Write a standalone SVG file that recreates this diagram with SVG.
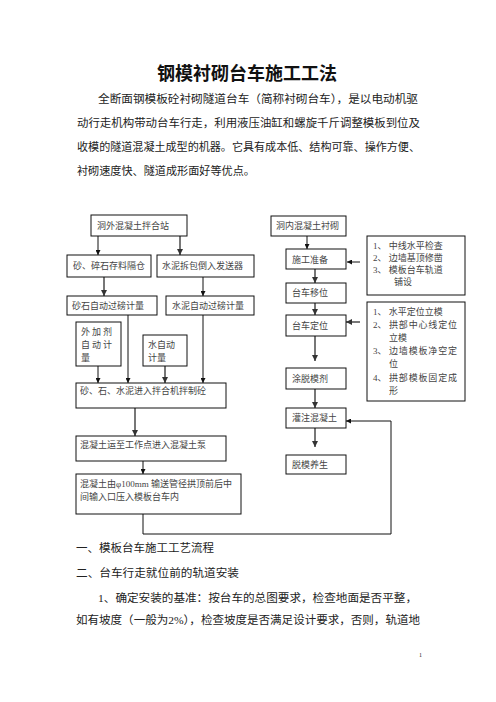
<svg xmlns="http://www.w3.org/2000/svg" width="496" height="702" viewBox="0 0 496 702">
<defs>
<style>
.bx{fill:#fff;stroke:#111;stroke-width:1}
.t{font-family:"Liberation Serif","Noto Sans CJK SC",serif;font-size:9px;fill:#444}
.p{font-family:"Liberation Serif","Noto Sans CJK SC",serif;font-size:11.2px;fill:#222}
.h{font-family:"Noto Sans CJK SC",sans-serif;font-size:18px;font-weight:bold;fill:#111}
.k{fill:none;stroke:#111;stroke-width:1}
.g{fill:none;stroke:#777;stroke-width:2}
</style>
<marker id="a" viewBox="0 0 6 6" refX="6" refY="3" markerWidth="5" markerHeight="5" markerUnits="userSpaceOnUse" orient="auto"><path d="M0,0L6,3L0,6z" fill="#111"/></marker>
<marker id="ag" viewBox="0 0 6 6" refX="6" refY="3" markerWidth="6" markerHeight="6" markerUnits="userSpaceOnUse" orient="auto"><path d="M0,0L6,3L0,6z" fill="#333"/></marker>
</defs>
<rect width="496" height="702" fill="#fff"/>

<text class="h" x="247" y="80" text-anchor="middle">钢模衬砌台车施工工法</text>
<text class="p" x="98" y="103" textLength="320" lengthAdjust="spacingAndGlyphs">全断面钢模板砼衬砌隧道台车（简称衬砌台车），是以电动机驱</text>
<text class="p" x="77" y="127" textLength="343" lengthAdjust="spacingAndGlyphs">动行走机构带动台车行走，利用液压油缸和螺旋千斤调整模板到位及</text>
<text class="p" x="77" y="151" textLength="343" lengthAdjust="spacingAndGlyphs">收模的隧道混凝土成型的机器。它具有成本低、结构可靠、操作方便、</text>
<text class="p" x="77" y="175" textLength="178" lengthAdjust="spacingAndGlyphs">衬砌速度快、隧道成形面好等优点。</text>

<g id="connectors">
<line class="k" x1="98" y1="236" x2="98" y2="255" marker-end="url(#a)"/>
<line class="g" x1="180" y1="236" x2="180" y2="255" marker-end="url(#ag)"/>
<line class="g" x1="104" y1="277" x2="104" y2="296" marker-end="url(#ag)"/>
<line class="k" x1="203" y1="277" x2="203" y2="296" marker-end="url(#a)"/>
<line class="k" x1="98" y1="366" x2="98" y2="383" marker-end="url(#a)"/>
<line class="k" x1="128" y1="315" x2="128" y2="383" marker-end="url(#a)"/>
<line class="g" x1="165" y1="366" x2="165" y2="383" marker-end="url(#ag)"/>
<line class="k" x1="203" y1="315" x2="203" y2="383" marker-end="url(#a)"/>
<line class="g" x1="135" y1="408" x2="135" y2="436" marker-end="url(#ag)"/>
<line class="k" x1="143" y1="461" x2="143" y2="474" marker-end="url(#a)"/>
<polyline class="k" points="143,514 143,534 391,534 391,421 346,421" marker-end="url(#a)"/>
<line class="k" x1="307" y1="236" x2="307" y2="249" marker-end="url(#a)"/>
<line class="g" x1="315" y1="269" x2="315" y2="283" marker-end="url(#ag)"/>
<line class="g" x1="315" y1="303" x2="315" y2="315" marker-end="url(#ag)"/>
<line class="g" x1="315" y1="336" x2="315" y2="361" marker-end="url(#ag)"/>
<line class="g" x1="315" y1="389" x2="315" y2="408" marker-end="url(#ag)"/>
<line class="g" x1="315" y1="428" x2="315" y2="447" marker-end="url(#ag)"/>
<line class="k" x1="360" y1="262" x2="347" y2="262" marker-end="url(#a)"/>
<line class="g" x1="360" y1="322" x2="346" y2="322" marker-end="url(#ag)"/>
</g>

<g id="n1"><rect class="bx" x="91" y="215" width="96" height="21"/><text class="t" x="97" y="229">洞外混凝土拌合站</text></g>
<g id="n2"><rect class="bx" x="67" y="255" width="84" height="22"/><text class="t" x="73" y="269">砂、碎石存料隔仓</text></g>
<g id="n3"><rect class="bx" x="157" y="255" width="97" height="22"/><text class="t" x="162" y="269">水泥拆包倒入发送器</text></g>
<g id="n4"><rect class="bx" x="67" y="296" width="90" height="19"/><text class="t" x="72" y="309">砂石自动过磅计量</text></g>
<g id="n5"><rect class="bx" x="166" y="296" width="88" height="19"/><text class="t" x="172" y="309">水泥自动过磅计量</text></g>
<g id="n6"><rect class="bx" x="76" y="322" width="45" height="44"/>
<text class="t" x="81" y="335" textLength="31" lengthAdjust="spacing">外加剂</text>
<text class="t" x="81" y="348" textLength="31" lengthAdjust="spacing">自动计</text>
<text class="t" x="81" y="361">量</text></g>
<g id="n7"><rect class="bx" x="143" y="335" width="44" height="31"/>
<text class="t" x="148" y="348">水自动</text><text class="t" x="148" y="361">计量</text></g>
<g id="n8"><rect class="bx" x="76" y="383" width="150" height="25"/><text class="t" x="80" y="394">砂、石、水泥进入拌合机拌制砼</text></g>
<g id="n9"><rect class="bx" x="76" y="436" width="150" height="25"/><text class="t" x="80" y="448">混凝土运至工作点进入混凝土泵</text></g>
<g id="n10"><rect class="bx" x="76" y="474" width="165" height="40"/>
<text class="t" x="80" y="487">混凝土由φ100mm 输送管径拱顶前后中</text>
<text class="t" x="80" y="500">间输入口压入模板台车内</text></g>

<g id="n11"><rect class="bx" x="271" y="216" width="75" height="20"/><text class="t" x="276" y="229">洞内混凝土衬砌</text></g>
<g id="n12"><rect class="bx" x="286" y="249" width="60" height="20"/><text class="t" x="292" y="263">施工准备</text></g>
<g id="n13"><rect class="bx" x="286" y="283" width="60" height="20"/><text class="t" x="292" y="296">台车移位</text></g>
<g id="n14"><rect class="bx" x="286" y="315" width="60" height="21"/><text class="t" x="292" y="329">台车定位</text></g>
<g id="n15"><rect class="bx" x="286" y="368" width="60" height="21"/><text class="t" x="292" y="382">涂脱模剂</text></g>
<g id="n16"><rect class="bx" x="286" y="408" width="60" height="20"/><text class="t" x="292" y="421">灌注混凝土</text></g>
<g id="n17"><rect class="bx" x="286" y="455" width="60" height="19"/><text class="t" x="292" y="468">脱模养生</text></g>

<g id="n18"><rect class="bx" x="367" y="236" width="98" height="59"/>
<text class="t" x="373" y="249">1、 中线水平检查</text>
<text class="t" x="373" y="261">2、 边墙基顶修凿</text>
<text class="t" x="373" y="273">3、 模板台车轨道</text>
<text class="t" x="394" y="285">铺设</text></g>
<g id="n19"><rect class="bx" x="367" y="302" width="98" height="99"/>
<text class="t" x="373" y="315">1、 水平定位立模</text>
<text class="t" x="373" y="328">2、</text><text class="t" x="389" y="328" textLength="68" lengthAdjust="spacing">拱部中心线定位</text>
<text class="t" x="389" y="341">立模</text>
<text class="t" x="373" y="354">3、</text><text class="t" x="389" y="354" textLength="68" lengthAdjust="spacing">边墙模板净空定</text>
<text class="t" x="389" y="367">位</text>
<text class="t" x="373" y="381">4、</text><text class="t" x="389" y="381" textLength="68" lengthAdjust="spacing">拱部模板固定成</text>
<text class="t" x="389" y="394">形</text></g>

<text class="p" x="76" y="552" textLength="138" lengthAdjust="spacingAndGlyphs">一、模板台车施工工艺流程</text>
<text class="p" x="76" y="577" textLength="163" lengthAdjust="spacingAndGlyphs">二、台车行走就位前的轨道安装</text>
<text class="p" x="98" y="602" textLength="319" lengthAdjust="spacingAndGlyphs">1、确定安装的基准：按台车的总图要求，检查地面是否平整，</text>
<text class="p" x="76" y="624" textLength="344" lengthAdjust="spacingAndGlyphs">如有坡度（一般为2%），检查坡度是否满足设计要求，否则，轨道地</text>
<text x="419" y="657" style="font-family:'Liberation Serif',serif;font-size:6px;fill:#222">1</text>
</svg>
